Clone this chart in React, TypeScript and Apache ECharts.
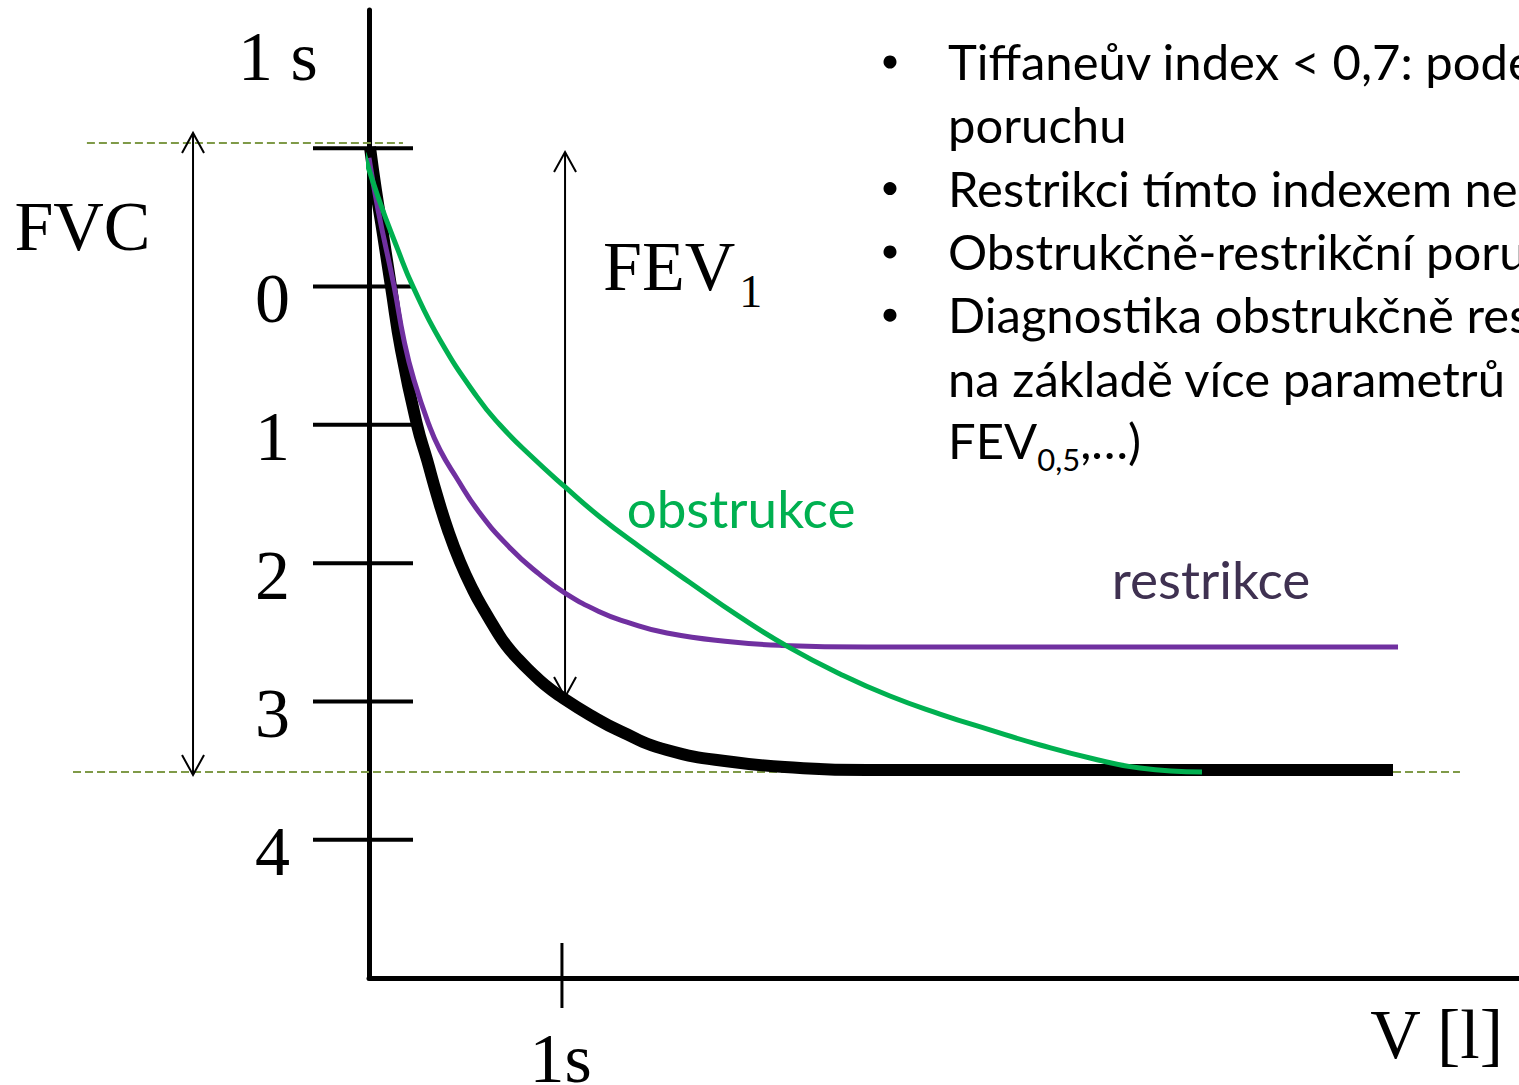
import React, { useEffect, useRef } from "react";
import * as echarts from "echarts";

// ---- axis ranges (time in s on x, volume in l on y, y drawn downwards) ----
const timeRange = [0, 5.96];
const volumeRange = [-2, 5];
const volumeTickValues = [-1, 0, 1, 2, 3, 4];
const volumeLabelValues = [0, 1, 2, 3, 4];
const volumeLabels = ["0", "1", "2", "3", "4"];
const timeTickValues = [1];

// ---- curves ----
const normalT = [0.005, 0.036, 0.073, 0.114, 0.166, 0.249, 0.301, 0.352, 0.409, 0.472, 0.539, 0.596, 0.658, 0.71, 0.777, 0.839, 0.912, 0.99, 1.145, 1.301, 1.544, 1.886, 2.234, 2.581, 3.27, 5.307];
const normalV = [-1.01, -0.698, -0.373, 0.0, 0.459, 1.001, 1.254, 1.507, 1.76, 1.992, 2.194, 2.339, 2.483, 2.592, 2.7, 2.787, 2.881, 2.961, 3.098, 3.214, 3.351, 3.438, 3.481, 3.496, 3.496, 3.496];

const restrT = [0.0, 0.047, 0.13, 0.181, 0.233, 0.311, 0.368, 0.451, 0.57, 0.726, 0.881, 1.016, 1.197, 1.337, 1.544, 1.886, 2.14, 2.581, 3.27, 5.333];
const restrV = [-0.93, -0.554, 0.0, 0.386, 0.676, 1.001, 1.182, 1.377, 1.63, 1.883, 2.078, 2.216, 2.353, 2.426, 2.505, 2.57, 2.595, 2.606, 2.606, 2.606];

const obstrT = [-0.026, 0.047, 0.15, 0.228, 0.368, 0.56, 0.679, 0.834, 1.016, 1.197, 1.404, 1.663, 1.922, 2.182, 2.441, 2.7, 2.959, 3.218, 3.478, 3.737, 3.996, 4.317];
const obstrV = [-0.966, -0.648, -0.265, 0.0, 0.386, 0.798, 1.001, 1.218, 1.449, 1.666, 1.883, 2.14, 2.389, 2.613, 2.801, 2.961, 3.091, 3.206, 3.315, 3.409, 3.481, 3.51];

// ---- FVC / FEV1 guides ----
const fvcTopLevel = -1.038;
const fvcBottomLevel = 3.51;
// guides: [time from, time to, volume]
const fvcGuides = [
  [-1.462, 0.176, fvcTopLevel],
  [-1.534, 5.654, fvcBottomLevel],
];
// arrows: [time, volume from, volume to]
const fvcArrow = [-0.912, -1.111, 3.532];
const fev1Arrow = [1.016, -0.973, 2.968];

// ---- texts ----
const volumeAxisName = "1 s";
const timeAxisName = "V [l]";
const timeTickLabel = "1s";
const fvcLabel = "FVC";
const fev1Label = "FEV";
const fev1Sub = "1";
const obstrLabel = "obstrukce";
const restrLabel = "restrikce";

const bulletLines = [
  { bullet: true, text: "Tiffaneův index < 0,7: pode" },
  { bullet: false, text: "poruchu" },
  { bullet: true, text: "Restrikci tímto indexem ne" },
  { bullet: true, text: "Obstrukčně-restrikční poru" },
  { bullet: true, text: "Diagnostika obstrukčně res" },
  { bullet: false, text: "na základě více parametrů" },
];
const lastLineMain = "FEV";
const lastLineSub = "0,5";
const lastLineTail = ",…)";

const SERIF = "'Liberation Serif', 'Times New Roman', serif";
const SANS = "Lato, 'Noto Sans', sans-serif";

const zip = (a: number[], b: number[]) => a.map((v, i) => [v, b[i]]);

function arrowItem(params: any, api: any) {
  const t = api.value(0);
  const p1 = api.coord([t, api.value(1)]);
  const p2 = api.coord([t, api.value(2)]);
  const hw = 11;
  const hl = 20;
  const style = { stroke: "#000", lineWidth: 2, fill: null };
  return {
    type: "group",
    children: [
      { type: "line", shape: { x1: p1[0], y1: p1[1], x2: p2[0], y2: p2[1] }, style },
      { type: "polyline", shape: { points: [[p1[0] - hw, p1[1] + hl], [p1[0], p1[1]], [p1[0] + hw, p1[1] + hl]] }, style },
      { type: "polyline", shape: { points: [[p2[0] - hw, p2[1] - hl], [p2[0], p2[1]], [p2[0] + hw, p2[1] - hl]] }, style },
    ],
  };
}

function guideItem(params: any, api: any) {
  const v = api.value(2);
  const p1 = api.coord([api.value(0), v]);
  const p2 = api.coord([api.value(1), v]);
  return {
    type: "line",
    shape: { x1: p1[0], y1: p1[1], x2: p2[0], y2: p2[1] },
    style: { stroke: "#7f9a48", lineWidth: 2, lineDash: [8, 4] },
  };
}

export default function App() {
  const ref = useRef<HTMLDivElement>(null);

  useEffect(() => {
    document.body.style.margin = "0";
    document.body.style.overflow = "hidden";
    if (!ref.current) return;
    const chart = echarts.init(ref.current, undefined, { renderer: "svg" });

    const lineH = 63.3;
    const textTop = 61;
    const graphic: any[] = [];
    bulletLines.forEach((ln, i) => {
      graphic.push({
        type: "text",
        x: 948,
        y: textTop + i * lineH,
        silent: true,
        style: { text: ln.text, fontFamily: SANS, fontSize: 49, fill: "#000", align: "left", verticalAlign: "middle" },
      });
      if (ln.bullet) {
        graphic.push({ type: "circle", silent: true, shape: { cx: 890, cy: textTop + i * lineH + 1, r: 6.5 }, style: { fill: "#000" } });
      }
    });
    graphic.push({
      type: "text",
      x: 948,
      y: 415,
      silent: true,
      style: {
        text: `{n|${lastLineMain}}{s|${lastLineSub}}{n|${lastLineTail}}`,
        align: "left",
        verticalAlign: "top",
        rich: {
          n: { fontFamily: SANS, fontSize: 49, lineHeight: 49, fill: "#000", verticalAlign: "top" },
          s: { fontFamily: SANS, fontSize: 31, lineHeight: 59, fill: "#000", verticalAlign: "bottom" },
        },
      },
    });

    const serifLabel = (text: string) => ({
      show: true,
      position: "inside",
      formatter: text,
      fontFamily: SERIF,
      fontSize: 70,
      color: "#000",
    });

    const annotations = [
      { value: [-0.472, -1.667], label: serifLabel(volumeAxisName) },
      { value: [5.533, 5.412], label: serifLabel(timeAxisName) },
      { value: [0.993, 5.582], label: serifLabel(timeTickLabel) },
      { value: [-1.485, -0.434], label: serifLabel(fvcLabel) },
      {
        value: [1.213, -0.099],
        label: {
          show: true,
          position: "right",
          distance: 0,
          formatter: `{a|${fev1Label}}{b|${fev1Sub}}`,
          rich: {
            a: { fontFamily: SERIF, fontSize: 70, lineHeight: 70, color: "#000", verticalAlign: "top" },
            b: { fontFamily: SERIF, fontSize: 46, lineHeight: 83, color: "#000", padding: [0, 0, 0, 4], verticalAlign: "bottom" },
          },
        },
      },
      {
        value: [1.928, 1.598],
        label: { show: true, position: "inside", formatter: obstrLabel, fontFamily: SANS, fontSize: 53, color: "#00B050" },
      },
      {
        value: [4.364, 2.111],
        label: { show: true, position: "inside", formatter: restrLabel, fontFamily: SANS, fontSize: 53, color: "#3F3151" },
      },
    ];

    const option: any = {
      animation: false,
      backgroundColor: "#ffffff",
      grid: { left: 369, right: 0, top: 10, bottom: 107, containLabel: false },
      tooltip: { show: false },
      xAxis: {
        type: "value",
        min: timeRange[0],
        max: timeRange[1],
        position: "bottom",
        axisLine: { show: true, onZero: false, lineStyle: { color: "#000", width: 5 } },
        axisTick: { show: false },
        axisLabel: { show: false },
        splitLine: { show: false },
      },
      yAxis: {
        type: "value",
        inverse: true,
        min: volumeRange[0],
        max: volumeRange[1],
        interval: 1,
        axisLine: { show: true, onZero: false, lineStyle: { color: "#000", width: 5 } },
        axisTick: { show: false },
        splitLine: { show: false },
        axisLabel: {
          show: true,
          margin: 79,
          fontFamily: SERIF,
          fontSize: 70,
          color: "#000",
          verticalAlign: "top",
          lineHeight: 24,
          formatter: (v: number) => {
            const idx = volumeLabelValues.indexOf(v);
            return idx >= 0 ? volumeLabels[idx] : "";
          },
        },
      },
      graphic,
      series: [
        {
          type: "custom",
          name: "volumeTicks",
          silent: true,
          data: volumeTickValues.map((v) => [0, v]),
          encode: { x: 0, y: 1 },
          renderItem: (params: any, api: any) => {
            const p = api.coord([api.value(0), api.value(1)]);
            return {
              type: "line",
              shape: { x1: p[0] - 56, y1: p[1], x2: p[0] + 44, y2: p[1] },
              style: { stroke: "#000", lineWidth: 4 },
            };
          },
        },
        {
          type: "custom",
          name: "timeTicks",
          silent: true,
          data: timeTickValues.map((t) => [t, volumeRange[1]]),
          encode: { x: 0, y: 1 },
          renderItem: (params: any, api: any) => {
            const p = api.coord([api.value(0), api.value(1)]);
            return {
              type: "line",
              shape: { x1: p[0], y1: p[1] - 35, x2: p[0], y2: p[1] + 30 },
              style: { stroke: "#000", lineWidth: 3 },
            };
          },
        },
        {
          type: "custom",
          name: "fvcGuides",
          silent: true,
          data: fvcGuides,
          encode: { x: [0, 1], y: 2 },
          renderItem: guideItem,
        },
        {
          type: "line",
          name: "normal",
          silent: true,
          data: zip(normalT, normalV),
          smooth: 0.5,
          symbol: "none",
          lineStyle: { color: "#000", width: 12 },
        },
        {
          type: "line",
          name: "restrikce",
          silent: true,
          data: zip(restrT, restrV),
          smooth: 0.5,
          symbol: "none",
          lineStyle: { color: "#7030A0", width: 5 },
        },
        {
          type: "line",
          name: "obstrukce",
          silent: true,
          clip: false,
          data: zip(obstrT, obstrV),
          smooth: 0.5,
          symbol: "none",
          lineStyle: { color: "#00B050", width: 5 },
        },
        {
          type: "custom",
          name: "arrows",
          silent: true,
          data: [fvcArrow, fev1Arrow],
          encode: { x: 0, y: [1, 2] },
          renderItem: arrowItem,
        },
        {
          type: "scatter",
          name: "annotations",
          silent: true,
          clip: false,
          symbolSize: 0,
          itemStyle: { color: "rgba(0,0,0,0)", opacity: 1 },
          emphasis: { disabled: true },
          data: annotations,
        },
      ],
    };

    chart.setOption(option);
    return () => chart.dispose();
  }, []);

  return <div ref={ref} style={{ width: 1519, height: 1085, background: "#fff" }} />;
}
